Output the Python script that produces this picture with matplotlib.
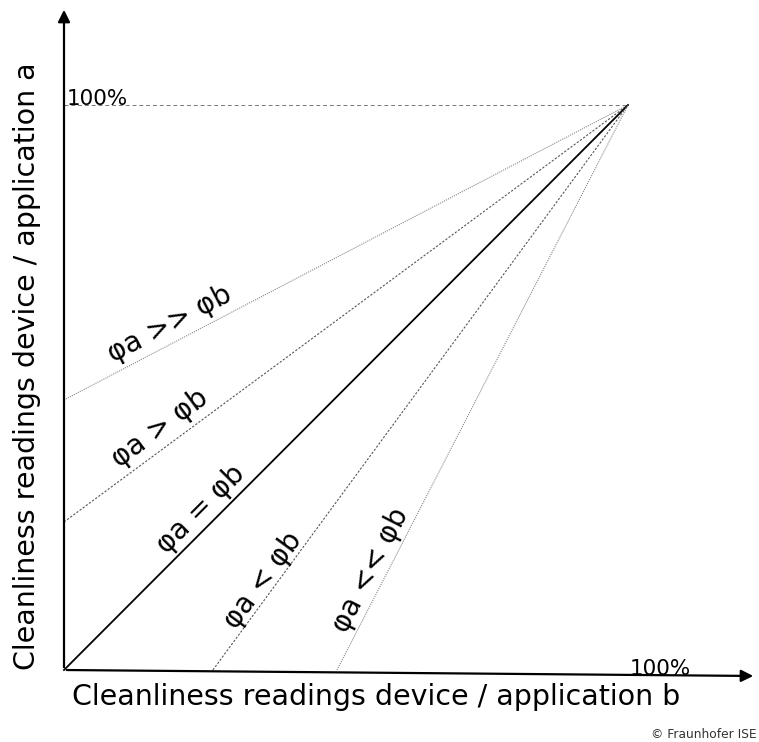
import numpy as np
import matplotlib.pyplot as plt

# relation labels and where each line meets the axes (1.0 = 100%)
ratios = ['φa >> φb', 'φa > φb', 'φa = φb', 'φa < φb', 'φa << φb']
start_x = [0.0, 0.0, 0.0, 0.264, 0.484]
start_y = [0.478, 0.262, 0.0, 0.0, 0.0]
peak = (1.0, 1.0)

x_label = 'Cleanliness readings device / application b'
y_label = 'Cleanliness readings device / application a'
full_label = '100%'
credit = '© Fraunhofer ISE'

# layout: label centres (data coords) and line styles
label_pos = [(0.188, 0.613), (0.170, 0.428), (0.243, 0.285), (0.352, 0.158), (0.543, 0.177)]
line_styles = [
    dict(color='#888888', lw=0.8, ls=(0, (1, 1))),
    dict(color='#555555', lw=0.8, ls=(0, (2, 1.5))),
    dict(color='black', lw=1.3, ls='-'),
    dict(color='#555555', lw=0.8, ls=(0, (2, 1.5))),
    dict(color='#888888', lw=0.8, ls=(0, (1, 1))),
]

fig = plt.figure(figsize=(7.59, 7.42), dpi=100)
ax = fig.add_axes([0, 0, 1, 1])
ax.set_xlim(-64 / 564, (759 - 64) / 564)
ax.set_ylim((670 - 742) / 565, 670 / 565)
ax.axis('off')

# axes with arrows
ax.annotate('', xy=(0, (670 - 7) / 565), xytext=(0, 0),
            arrowprops=dict(arrowstyle='-|>', color='black', lw=1.6, mutation_scale=18))
ax.annotate('', xy=((756 - 64) / 564, -6 / 565), xytext=(0, 0),
            arrowprops=dict(arrowstyle='-|>', color='black', lw=1.6, mutation_scale=18))

# 100% reference line
ax.plot([0, peak[0]], [peak[1], peak[1]], color='#777777', lw=0.7, ls=(0, (4, 3)))
ax.text(0.005, peak[1], full_label, fontsize=15.5, ha='left', va='baseline')
ax.text(1.058, -0.008, full_label, fontsize=15.5, ha='center', va='baseline')

# relation lines and labels
for name, sx, sy, (lx, ly), st in zip(ratios, start_x, start_y, label_pos, line_styles):
    ax.plot([sx, peak[0]], [sy, peak[1]], color=st['color'], lw=st['lw'], ls=st['ls'])
    p0 = ax.transData.transform((sx, sy))
    p1 = ax.transData.transform(peak)
    ang = np.degrees(np.arctan2(p1[1] - p0[1], p1[0] - p0[0]))
    ax.text(lx, ly, name, fontsize=20, rotation=ang, rotation_mode='anchor',
            ha='center', va='center')

ax.text((376 - 64) / 564, (670 - 697) / 565, x_label, fontsize=20.5, ha='center', va='center')
ax.text((27 - 64) / 564, (670 - 366) / 565, y_label, fontsize=20.5, rotation=90,
        ha='center', va='center')
ax.text((757 - 64) / 564, (670 - 735) / 565, credit, fontsize=8.8, ha='right', va='center',
        color='#333333')

fig.savefig('out.png', dpi=100)
